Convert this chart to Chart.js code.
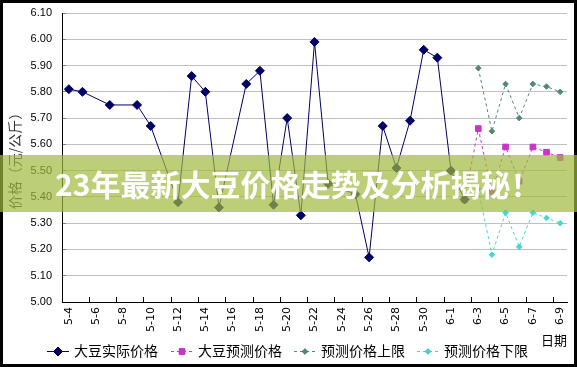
<!DOCTYPE html>
<html>
<head>
<meta charset="utf-8">
<script src="https://cdn.jsdelivr.net/npm/chart.js@4.4.1/dist/chart.umd.min.js"></script>
<style>
    body { margin: 0; background: #fff; }
    #wrap { position: relative; width: 577px; height: 367px; overflow: hidden; }
    #frame { position: absolute; left: 0; top: 0; width: 577px; height: 367px; box-sizing: border-box; border: 3px solid #000; pointer-events: none; }
    #banner {
        position: absolute; left: 0; top: 155px; width: 577px; height: 57px;
        background: rgba(160, 185, 60, 0.7);
        color: #fff; font: bold 30px "Noto Sans CJK SC", sans-serif;
        line-height: 57px; padding-left: 55px; box-sizing: border-box; white-space: nowrap;
    }
</style>
</head>
<body>
<div id="wrap">
    <canvas id="priceChart" width="577" height="367"></canvas>
    <div id="frame"></div>
    <div id="banner">23年最新大豆价格走势及分析揭秘！</div>
</div>
<script>
// dates 5-4 ... 6-9, one per day
const dates = ["5-4", "5-5", "5-6", "5-7", "5-8", "5-9", "5-10", "5-11", "5-12", "5-13",
    "5-14", "5-15", "5-16", "5-17", "5-18", "5-19", "5-20", "5-21", "5-22", "5-23",
    "5-24", "5-25", "5-26", "5-27", "5-28", "5-29", "5-30", "5-31", "6-1", "6-2",
    "6-3", "6-4", "6-5", "6-6", "6-7", "6-8", "6-9"];

const actualPrice = [5.81, 5.80, null, 5.75, null, 5.75, 5.67, null, 5.38, 5.86,
    5.80, 5.36, null, 5.83, 5.88, 5.37, 5.70, 5.33, 5.99, 5.45,
    null, 5.41, 5.17, 5.67, 5.51, 5.69, 5.96, 5.93, 5.50, 5.39,
    null, null, null, null, null, null, null];

const forecastPrice = [null, null, null, null, null, null, null, null, null, null,
    null, null, null, null, null, null, null, null, null, null,
    null, null, null, null, null, null, null, null, null, 5.39,
    5.66, 5.42, 5.59, 5.46, 5.59, 5.57, 5.55];

const upperLimit = [null, null, null, null, null, null, null, null, null, null,
    null, null, null, null, null, null, null, null, null, null,
    null, null, null, null, null, null, null, null, null, null,
    5.89, 5.65, 5.83, 5.70, 5.83, 5.82, 5.80];

const lowerLimit = [null, null, null, null, null, null, null, null, null, null,
    null, null, null, null, null, null, null, null, null, null,
    null, null, null, null, null, null, null, null, null, null,
    5.43, 5.18, 5.34, 5.21, 5.34, 5.32, 5.30];

const seriesNames = ["大豆实际价格", "大豆预测价格", "预测价格上限", "预测价格下限"];
const yTitle = "价格（元/公斤）";
const xTitle = "日期";

document.addEventListener("DOMContentLoaded", function () {
    const canvas = document.getElementById("priceChart");

    // legend under the axis: line sample + marker + name
    const legendPlugin = {
        id: "bottomLegend",
        afterDraw: function (chart) {
            const ctx = chart.ctx;
            const y = 351;
            const items = [
                { x: 47, ds: 0 },
                { x: 171, ds: 1 },
                { x: 294, ds: 2 },
                { x: 417, ds: 3 }
            ];
            ctx.save();
            items.forEach(function (it) {
                const ds = chart.data.datasets[it.ds];
                ctx.strokeStyle = ds.borderColor;
                ctx.lineWidth = 1;
                ctx.setLineDash(ds.borderDash || []);
                ctx.beginPath();
                ctx.moveTo(it.x, y + 0.5);
                ctx.lineTo(it.x + 22, y + 0.5);
                ctx.stroke();
                ctx.setLineDash([]);
                Chart.helpers.drawPoint(ctx, {
                    pointStyle: ds.pointStyle,
                    radius: ds.pointRadius,
                    rotation: 0,
                    borderWidth: 1
                }, it.x + 11, y + 0.5);
                ctx.fillStyle = ds.pointBackgroundColor;
                ctx.fill();
                ctx.fillStyle = "#000";
                ctx.font = "14px 'Noto Sans CJK SC'";
                ctx.textBaseline = "middle";
                ctx.textAlign = "left";
                ctx.fillText(ds.label, it.x + 27, y);
            });
            ctx.restore();
        }
    };

    new Chart(canvas, {
        type: "line",
        data: {
            labels: dates,
            datasets: [{
                label: seriesNames[0],
                data: actualPrice,
                borderColor: "#000066",
                backgroundColor: "#000066",
                pointBackgroundColor: "#000066",
                pointBorderColor: "#000066",
                borderWidth: 1,
                pointStyle: "rectRot",
                pointRadius: 4.5,
                spanGaps: true
            }, {
                label: seriesNames[1],
                data: forecastPrice,
                borderColor: "#CC33CC",
                backgroundColor: "#CC33CC",
                pointBackgroundColor: "#CC33CC",
                pointBorderColor: "#CC33CC",
                borderWidth: 1,
                borderDash: [3, 3],
                pointStyle: "rect",
                pointRadius: 4,
                spanGaps: true
            }, {
                label: seriesNames[2],
                data: upperLimit,
                borderColor: "#4F8A6E",
                backgroundColor: "#4F8A6E",
                pointBackgroundColor: "#4F8A6E",
                pointBorderColor: "#4F8A6E",
                borderWidth: 1,
                borderDash: [3, 3],
                pointStyle: "rectRot",
                pointRadius: 2.8,
                spanGaps: true
            }, {
                label: seriesNames[3],
                data: lowerLimit,
                borderColor: "#3FD9CF",
                backgroundColor: "#3FD9CF",
                pointBackgroundColor: "#3FD9CF",
                pointBorderColor: "#3FD9CF",
                borderWidth: 1,
                borderDash: [3, 3],
                pointStyle: "rectRot",
                pointRadius: 2.8,
                spanGaps: true
            }]
        },
        options: {
            responsive: false,
            animation: false,
            layout: { padding: { top: 13, right: 10, bottom: 0, left: 0 } },
            elements: { line: { tension: 0 } },
            plugins: {
                legend: { display: false },
                tooltip: { enabled: false }
            },
            scales: {
                x: {
                    offset: true,
                    afterFit: function (scale) {
                        scale.height = 65;
                        // label overhang should not shrink the plot
                        scale.paddingLeft = 0;
                        scale.paddingRight = 0;
                    },
                    border: { color: "#000", width: 1 },
                    grid: {
                        offset: true,
                        drawOnChartArea: false,
                        tickLength: -5,
                        color: function (c) { return c.index % 2 === 0 ? "#000" : "rgba(0,0,0,0)"; }
                    },
                    ticks: {
                        autoSkip: false,
                        minRotation: 90,
                        maxRotation: 90,
                        padding: 10,
                        color: "#000",
                        font: { family: "DejaVu Sans", size: 11 },
                        callback: function (val, index) {
                            return index % 2 === 0 ? this.getLabelForValue(val) : "";
                        }
                    },
                    title: {
                        display: true,
                        text: xTitle,
                        align: "end",
                        color: "#000",
                        font: { family: "Noto Sans CJK SC", size: 13 },
                        padding: { top: 0, bottom: 19 }
                    }
                },
                y: {
                    min: 5.0,
                    max: 6.1,
                    afterFit: function (scale) {
                        scale.width = 62;
                        scale.paddingTop = 6;
                        scale.paddingBottom = 6;
                    },
                    border: { color: "#000", width: 1 },
                    grid: {
                        color: "#C0C0C0",
                        tickLength: -4,
                        tickColor: "#808080"
                    },
                    ticks: {
                        stepSize: 0.1,
                        padding: 14,
                        color: "#000",
                        font: { family: "Liberation Sans", size: 11 },
                        callback: function (v) { return v.toFixed(2); }
                    },
                    title: {
                        display: true,
                        text: yTitle,
                        color: "#333",
                        font: { family: "Noto Sans CJK SC", size: 14 },
                        padding: { top: 6, bottom: 0 }
                    }
                }
            }
        },
        plugins: [legendPlugin]
    });
});
</script>
</body>
</html>
